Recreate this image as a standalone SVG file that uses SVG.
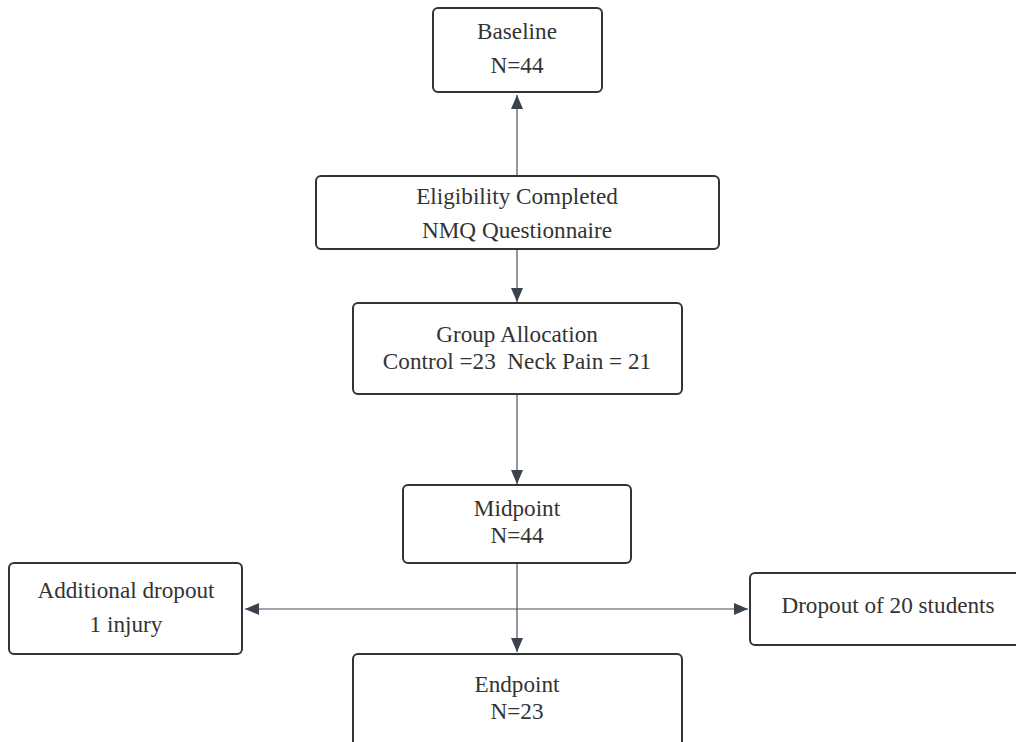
<svg xmlns="http://www.w3.org/2000/svg" width="1016" height="742" viewBox="0 0 1016 742">
<defs>
<marker id="ah" viewBox="0 0 14 12" refX="14" refY="6" markerWidth="14" markerHeight="12" markerUnits="userSpaceOnUse" orient="auto">
<path d="M0,0 L14,6 L0,12 Z" fill="#3a424d"/>
</marker>
<style>
.box{fill:#fff;stroke:#333;stroke-width:2}
.t{font-family:"Liberation Serif","Times New Roman",serif;font-size:23.2px;fill:#333;text-anchor:middle}
.c{stroke:#4a525c;stroke-width:1.2;fill:none;marker-end:url(#ah)}
</style>
</defs>
<rect width="1016" height="742" fill="#fff"/>
<g id="connectors">
<line class="c" x1="517" y1="176" x2="517" y2="95"/>
<line class="c" x1="517" y1="249" x2="517" y2="302"/>
<line class="c" x1="517" y1="394" x2="517" y2="484"/>
<line class="c" x1="517" y1="563" x2="517" y2="652"/>
<line class="c" x1="517" y1="609" x2="245" y2="609"/>
<line class="c" x1="517" y1="609" x2="748" y2="609"/>
</g>
<g id="baseline">
<rect class="box" x="433" y="8" width="169" height="84" rx="5"/>
<text class="t" x="517" y="39">Baseline</text>
<text class="t" x="517" y="73">N=44</text>
</g>
<g id="eligibility">
<rect class="box" x="316" y="176" width="403" height="73" rx="5"/>
<text class="t" x="517" y="204">Eligibility Completed</text>
<text class="t" x="517" y="238">NMQ Questionnaire</text>
</g>
<g id="allocation">
<rect class="box" x="353" y="303" width="329" height="91" rx="5"/>
<text class="t" x="517" y="342">Group Allocation</text>
<text class="t" x="517" y="369" xml:space="preserve">Control =23  Neck Pain = 21</text>
</g>
<g id="midpoint">
<rect class="box" x="403" y="485" width="228" height="78" rx="5"/>
<text class="t" x="517" y="516">Midpoint</text>
<text class="t" x="517" y="543">N=44</text>
</g>
<g id="additional">
<rect class="box" x="9" y="563" width="233" height="91" rx="5"/>
<text class="t" x="126" y="598">Additional dropout</text>
<text class="t" x="126" y="632">1 injury</text>
</g>
<g id="dropout">
<rect class="box" x="750" y="573" width="280" height="72" rx="5"/>
<text class="t" x="888" y="613">Dropout of 20 students</text>
</g>
<g id="endpoint">
<rect class="box" x="353" y="654" width="329" height="100" rx="5"/>
<text class="t" x="517" y="692">Endpoint</text>
<text class="t" x="517" y="719">N=23</text>
</g>
</svg>
